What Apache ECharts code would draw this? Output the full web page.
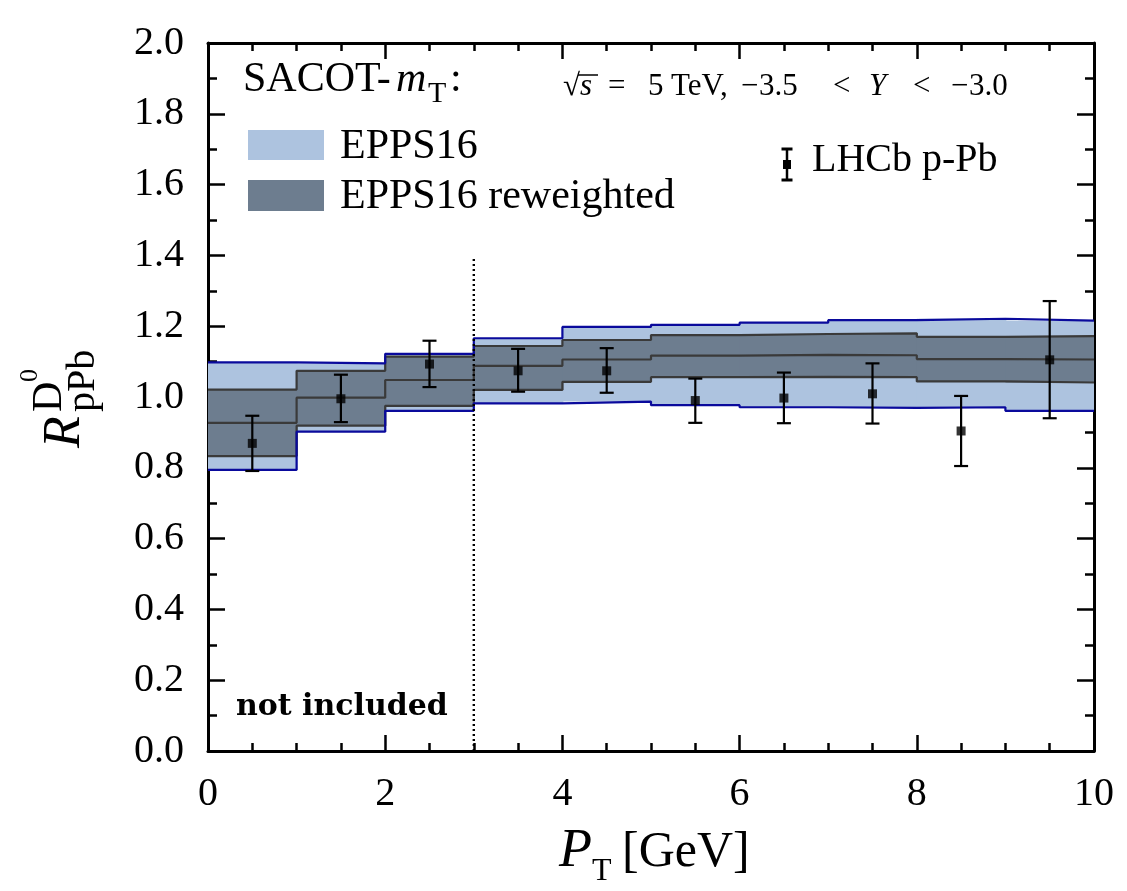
<!DOCTYPE html>
<html>
<head>
<meta charset="utf-8">
<script src="https://cdn.jsdelivr.net/npm/echarts@6/dist/echarts.min.js"></script>
<style>
  html, body { margin: 0; padding: 0; background: #fff; }
  #main { width: 1127px; height: 891px; }
</style>
</head>
<body>
<div id="main"></div>
<script>
// bin edges in P_T [GeV]
var ptEdges = [0, 1, 2, 3, 4, 5, 6, 7, 8, 9, 10];
// EPPS16 band
var outerLo = [0.794, 0.902, 0.961, 0.982, 0.987, 0.977, 0.971, 0.969, 0.971, 0.961];
var outerHi = [1.098, 1.095, 1.122, 1.166, 1.198, 1.204, 1.210, 1.217, 1.221, 1.216];
// EPPS16 reweighted band
var innerLo = [0.833, 0.919, 0.975, 1.020, 1.043, 1.056, 1.057, 1.056, 1.044, 1.041];
var innerHi = [1.021, 1.074, 1.114, 1.144, 1.161, 1.175, 1.178, 1.180, 1.170, 1.172];
var central = [0.927, 0.998, 1.048, 1.088, 1.106, 1.117, 1.119, 1.118, 1.107, 1.106];
// LHCb p-Pb data
var lhcbPt = [0.5, 1.5, 2.5, 3.5, 4.5, 5.5, 6.5, 7.5, 8.5, 9.5];
var lhcbR = [0.869, 0.995, 1.093, 1.074, 1.074, 0.990, 0.997, 1.009, 0.904, 1.105];
var lhcbHi = [0.947, 1.063, 1.159, 1.136, 1.138, 1.052, 1.069, 1.095, 1.003, 1.271];
var lhcbLo = [0.791, 0.929, 1.028, 1.015, 1.012, 0.927, 0.926, 0.925, 0.805, 0.940];
// cut: points below this are not included
var cutPt = 3;
var cutTop = 1.39;

var serif = '"Liberation Serif", "DejaVu Serif", serif';

function bandData(lo, hi) {
  return lo.map(function (v, i) {
    return [ptEdges[i], ptEdges[i + 1], v, hi[i]];
  });
}
function stepData(vals) {
  return ptEdges.map(function (x, i) {
    return [x, vals[Math.min(i, vals.length - 1)]];
  });
}
function bandSeries(lo, hi, color) {
  return {
    type: "custom",
    silent: true,
    clip: true,
    encode: { x: [0, 1], y: [2, 3] },
    data: bandData(lo, hi),
    renderItem: function (params, api) {
      var a = api.coord([api.value(0), api.value(3)]);
      var b = api.coord([api.value(1), api.value(2)]);
      return {
        type: "rect",
        shape: { x: a[0], y: a[1], width: b[0] - a[0] + 1, height: b[1] - a[1] },
        style: { fill: color },
      };
    },
  };
}
function stepLine(vals, color, width) {
  return {
    type: "line",
    step: "end",
    symbol: "none",
    silent: true,
    data: stepData(vals),
    lineStyle: { color: color, width: width },
    z: 3,
  };
}
function txt(x, y, s, font) {
  return {
    type: "text", x: x, y: y,
    style: {
      text: s, font: font, fill: "#000",
      align: "left", verticalAlign: "middle", textAlign: "left", textVerticalAlign: "middle",
    },
  };
}

var axisCommon = {
  type: "value",
  axisLine: { show: true, onZero: false, lineStyle: { color: "#000", width: 3 } },
  splitLine: { show: false },
};

var kin = "31px " + serif;
var kinI = "italic 31px " + serif;

var myChart = echarts.init(document.getElementById("main"));
myChart.setOption({
  animation: false,
  backgroundColor: "#fff",
  grid: { left: 208, right: 33, top: 43, bottom: 140 },
  xAxis: [
    Object.assign({}, axisCommon, {
      min: 0, max: 10, interval: 2, position: "bottom",
      axisTick: { inside: true, length: 16, lineStyle: { color: "#000", width: 2.5 } },
      minorTick: { show: true, splitNumber: 4, length: 8, lineStyle: { color: "#000", width: 2.5 } },
      axisLabel: { margin: 23, color: "#000", fontSize: 40, fontFamily: serif },
    }),
    Object.assign({}, axisCommon, {
      min: 0, max: 10, interval: 2, position: "top",
      axisTick: { inside: true, length: 16, lineStyle: { color: "#000", width: 2.5 } },
      minorTick: { show: true, splitNumber: 4, length: 8, lineStyle: { color: "#000", width: 2.5 } },
      axisLabel: { show: false },
    }),
  ],
  yAxis: [
    Object.assign({}, axisCommon, {
      min: 0, max: 2, interval: 0.2, position: "left",
      axisTick: { inside: true, length: 17, lineStyle: { color: "#000", width: 2.5 } },
      minorTick: { show: true, splitNumber: 2, length: 9, lineStyle: { color: "#000", width: 2.5 } },
      axisLabel: {
        margin: 24, color: "#000", fontSize: 40, fontFamily: serif,
        formatter: function (v) { return v.toFixed(1); },
      },
    }),
    Object.assign({}, axisCommon, {
      min: 0, max: 2, interval: 0.2, position: "right",
      axisTick: { inside: true, length: 17, lineStyle: { color: "#000", width: 2.5 } },
      minorTick: { show: true, splitNumber: 2, length: 9, lineStyle: { color: "#000", width: 2.5 } },
      axisLabel: { show: false },
    }),
  ],
  series: [
    bandSeries(outerLo, outerHi, "#adc3df"),
    bandSeries(innerLo, innerHi, "#6d7d8f"),
    stepLine(innerHi, "#3a3a3a", 2.2),
    stepLine(innerLo, "#3a3a3a", 2.2),
    stepLine(central, "#3a3a3a", 2.2),
    stepLine(outerHi, "#0a0a9c", 2.2),
    stepLine(outerLo, "#0a0a9c", 2.2),
    {
      // cut line
      type: "line",
      symbol: "none",
      silent: true,
      data: [[cutPt, 0], [cutPt, cutTop]],
      lineStyle: { color: "#000", width: 2.4, type: [2, 3] },
      z: 4,
    },
    {
      // LHCb error bars
      type: "custom",
      silent: true,
      encode: { x: 0, y: [1, 2] },
      data: lhcbPt.map(function (x, i) { return [x, lhcbLo[i], lhcbHi[i]]; }),
      renderItem: function (params, api) {
        var lo = api.coord([api.value(0), api.value(1)]);
        var hi = api.coord([api.value(0), api.value(2)]);
        var w = 7;
        var st = { stroke: "#000", lineWidth: 2.2 };
        return {
          type: "group",
          children: [
            { type: "line", shape: { x1: lo[0], y1: lo[1], x2: hi[0], y2: hi[1] }, style: st },
            { type: "line", shape: { x1: lo[0] - w, y1: lo[1], x2: lo[0] + w, y2: lo[1] }, style: st },
            { type: "line", shape: { x1: hi[0] - w, y1: hi[1], x2: hi[0] + w, y2: hi[1] }, style: st },
          ],
        };
      },
      z: 5,
    },
    {
      name: "LHCb p-Pb",
      type: "scatter",
      symbol: "rect",
      symbolSize: 9,
      silent: true,
      itemStyle: { color: "#000" },
      data: lhcbPt.map(function (x, i) { return [x, lhcbR[i]]; }),
      z: 6,
    },
  ],
  graphic: [
    // legend, left
    txt(243, 80, "SACOT-", "42px " + serif),
    txt(396, 80, "m", "italic 42px " + serif),
    txt(428, 94, "T", "30px " + serif),
    txt(450, 80, ":", "42px " + serif),
    { type: "rect", shape: { x: 248, y: 130, width: 76, height: 30 }, style: { fill: "#adc3df" } },
    { type: "rect", shape: { x: 248, y: 180, width: 76, height: 31 }, style: { fill: "#6d7d8f" } },
    txt(340, 147, "EPPS16", "42px " + serif),
    txt(340, 197, "EPPS16 reweighted", "42px " + serif),
    // kinematics
    txt(563, 87, "√", kin),
    { type: "line", shape: { x1: 578, y1: 75, x2: 598, y2: 75 }, style: { stroke: "#000", lineWidth: 1.5 } },
    txt(580, 87, "s", kinI),
    txt(608, 87, "=", kin),
    txt(648, 87, "5", kin),
    txt(671, 87, "TeV,", kin),
    txt(741, 87, "−", kin),
    txt(759, 87, "3.5", kin),
    txt(833, 87, "<", kin),
    txt(869, 87, "Y", kinI),
    txt(913, 87, "<", kin),
    txt(951, 87, "−", kin),
    txt(969, 87, "3.0", kin),
    // legend, right
    {
      type: "group", x: 787, y: 164,
      children: [
        { type: "line", shape: { x1: 0, y1: -15, x2: 0, y2: 16 }, style: { stroke: "#000", lineWidth: 2.5 } },
        { type: "line", shape: { x1: -5.5, y1: -15, x2: 5.5, y2: -15 }, style: { stroke: "#000", lineWidth: 3 } },
        { type: "line", shape: { x1: -5.5, y1: 16, x2: 5.5, y2: 16 }, style: { stroke: "#000", lineWidth: 3 } },
        { type: "rect", shape: { x: -4, y: -4, width: 8, height: 9 }, style: { fill: "#000" } },
      ],
    },
    txt(812, 160, "LHCb p-Pb", "40px " + serif),
    // not included
    txt(236, 707, "not included", 'bold 30px "DejaVu Serif", serif'),
    // x axis title
    txt(559, 852, "P", "italic 54px " + serif),
    txt(592, 872, "T", "32px " + serif),
    txt(622, 853, "[GeV]", "50px " + serif),
    // y axis title
    {
      type: "group", x: 82, y: 448, rotation: Math.PI / 2,
      children: [
        txt(0, -17, "R", "italic 52px " + serif),
        txt(36, -32, "D", "42px " + serif),
        txt(66, -52, "0", "26px " + serif),
        txt(36, 1, "pPb", "40px " + serif),
      ],
    },
  ],
});
</script>
</body>
</html>
